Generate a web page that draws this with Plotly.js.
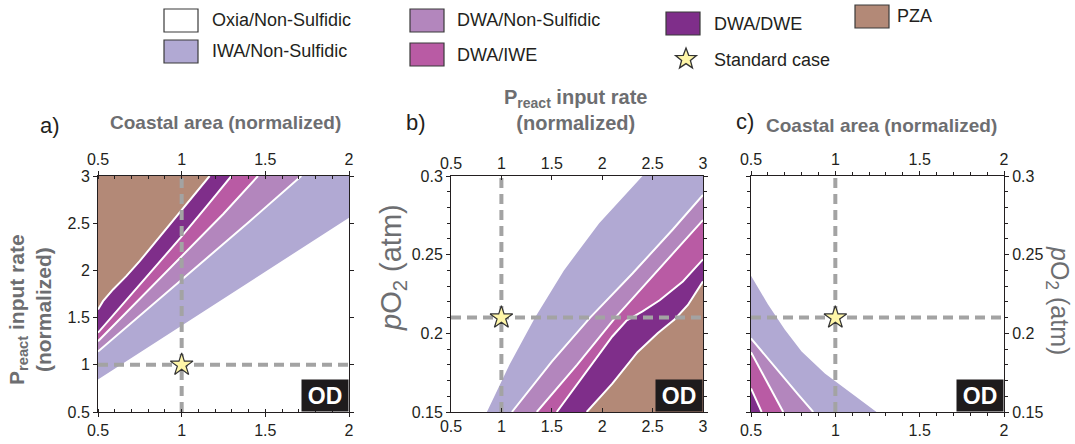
<!DOCTYPE html>
<html><head><meta charset="utf-8">
<script src="https://cdn.plot.ly/plotly-3.0.1.min.js"></script>
<style>html,body{margin:0;padding:0;background:#fff}#chart{width:1075px;height:444px}</style>
</head><body><div id="chart"></div>
<script>
// ================= DATA =================
const regionNames = ["Oxia/Non-Sulfidic", "IWA/Non-Sulfidic", "DWA/Non-Sulfidic", "DWA/IWE", "DWA/DWE", "PZA"];
const standardCaseLabel = "Standard case";
const xTitleCoastal = "Coastal area (normalized)";
const titlePreact = "P<sub>react</sub> input rate<br>(normalized)";
const titlePO2 = "<i>p</i>O<sub>2</sub> (atm)";

// Panel a: x = coastal area (normalized), y = Preact input rate (normalized)
const aRangeX = [0.5, 2];
const aRangeY = [0.5, 3];
const aPzaX = [0.5, 0.53, 0.59, 0.669, 0.749, 0.9, 1.0, 1.167];
const aPzaY = [1.585, 1.674, 1.798, 1.939, 2.098, 2.42, 2.64, 3.0];
const aDweX = [0.5, 0.75, 1.0, 1.15, 1.297];
const aDweY = [1.34, 1.85, 2.36, 2.68, 3.0];
const aIweX = [0.5, 0.75, 1.0, 1.25, 1.456];
const aIweY = [1.25, 1.70, 2.15, 2.60, 3.0];
const aNsX = [0.5, 0.75, 1.0, 1.4, 1.715];
const aNsY = [1.14, 1.52, 1.90, 2.51, 3.0];
const aIwaX = [0.5, 1.0, 1.5, 2.0];
const aIwaY = [0.843, 1.415, 1.985, 2.558];
const aStd = {x: 1, y: 1};

// Panel b: x = Preact input rate (normalized), y = pO2 (atm)
const bRangeX = [0.5, 3];
const bRangeY = [0.15, 0.3];
const bIwaX = [0.856, 1.08, 1.334, 1.62, 1.97, 2.40];
const bIwaY = [0.15, 0.18, 0.21, 0.24, 0.27, 0.30];
const bNsX = [1.104, 1.5, 1.88, 2.3, 2.7, 3.0];
const bNsY = [0.15, 0.182, 0.21, 0.238, 0.266, 0.288];
const bIweX = [1.351, 1.75, 2.13, 2.55, 3.0];
const bIweY = [0.15, 0.18, 0.21, 0.24, 0.272];
const bDweX = [1.549, 1.91, 2.1, 2.24, 2.4, 2.57, 2.8, 3.0];
const bDweY = [0.15, 0.181, 0.198, 0.208, 0.214, 0.221, 0.233, 0.247];
const bPzaX = [1.846, 2.1, 2.35, 2.55, 2.72, 2.85, 3.0];
const bPzaY = [0.15, 0.168, 0.188, 0.2, 0.209, 0.218, 0.233];
const bStd = {x: 1, y: 0.21};

// Panel c: x = coastal area (normalized), y = pO2 (atm)
const cRangeX = [0.5, 2];
const cRangeY = [0.15, 0.3];
const cIwaX = [0.5, 0.6, 0.7, 0.8, 0.938, 1.05, 1.15, 1.244];
const cIwaY = [0.2366, 0.2185, 0.2025, 0.1885, 0.1745, 0.1655, 0.1575, 0.15];
const cNsX = [0.5, 0.6, 0.69, 0.78, 0.869];
const cNsY = [0.1968, 0.1838, 0.1725, 0.161, 0.15];
const cIweX = [0.5, 0.6, 0.691];
const cIweY = [0.188, 0.1685, 0.15];
const cDweX = [0.5, 0.563];
const cDweY = [0.165, 0.15];
const cStd = {x: 1, y: 0.21};

// ================= STYLE =================
const W = 1075, H = 444;
const COL = {oxia: '#ffffff', iwa: '#b1a9d3', ns: '#b386bd', iwe: '#b95ba4', dwe: '#7f2e8a', pza: '#b38977'};
const FONT = 'Liberation Sans, Arial, Helvetica, sans-serif';
const INK = '#231f20';
const GREY = '#6d6e71';
const GUIDE = '#a3a3a3';
const STAR_FILL = '#fff6a8', STAR_LINE = '#333333';
const px = v => v / W;
const py = v => 1 - v / H;
const dom = {a: [px(98), px(349)], b: [px(451), px(703)], c: [px(751), px(1004)]};
const yDom = [py(412), py(176)];

// ================= GEOMETRY HELPERS =================
function edgeT(x, y, xr, yr) {
  const e = 1e-9;
  const fx = (x - xr[0]) / (xr[1] - xr[0]);
  const fy = (y - yr[0]) / (yr[1] - yr[0]);
  if (Math.abs(fx) < e) return fy;
  if (Math.abs(fy - 1) < e) return 1 + fx;
  if (Math.abs(fx - 1) < e) return 2 + (1 - fy);
  return 3 + (1 - fx);
}
function cornerAt(t, xr, yr) {
  const k = ((t % 4) + 4) % 4;
  return [[xr[0], yr[0]], [xr[0], yr[1]], [xr[1], yr[1]], [xr[1], yr[0]]][k];
}
function perimeterPath(ta, tb, xr, yr) {
  if (tb <= ta) tb += 4;
  const pts = [];
  for (let c = Math.floor(ta) + 1; c < tb; c++) pts.push(cornerAt(c, xr, yr));
  return pts;
}
function region(ax, ay, bx, by, xr, yr) {
  const X = ax.slice(), Y = ay.slice();
  const tA0 = edgeT(ax[0], ay[0], xr, yr), tA1 = edgeT(ax[ax.length - 1], ay[ay.length - 1], xr, yr);
  const push = p => { X.push(p[0]); Y.push(p[1]); };
  if (!bx) {
    perimeterPath(tA1, tA0, xr, yr).forEach(push);
  } else {
    const tB0 = edgeT(bx[0], by[0], xr, yr), tB1 = edgeT(bx[bx.length - 1], by[by.length - 1], xr, yr);
    perimeterPath(tA1, tB1, xr, yr).forEach(push);
    for (let i = bx.length - 1; i >= 0; i--) { X.push(bx[i]); Y.push(by[i]); }
    perimeterPath(tB0, tA0, xr, yr).forEach(push);
  }
  X.push(X[0]); Y.push(Y[0]);
  return {x: X, y: Y};
}
const rev = a => a.slice().reverse();

const traces = [];
function fillTrace(poly, color, xa, ya) {
  traces.push({x: poly.x, y: poly.y, xaxis: xa, yaxis: ya, type: 'scatter', mode: 'lines',
    fill: 'toself', fillcolor: color, line: {width: 0, color: color}, hoverinfo: 'skip', showlegend: false});
}
function lineTrace(x, y, xa, ya) {
  traces.push({x: x, y: y, xaxis: xa, yaxis: ya, type: 'scatter', mode: 'lines',
    line: {color: '#ffffff', width: 2}, hoverinfo: 'skip', showlegend: false});
}
function guides(std, xr, yr, xa, ya) {
  const ln = {color: GUIDE, width: 4, dash: '10px,6px'};
  traces.push({x: [std.x, std.x], y: yr, xaxis: xa, yaxis: ya, type: 'scatter', mode: 'lines', line: ln, hoverinfo: 'skip', showlegend: false});
  traces.push({x: xr, y: [std.y, std.y], xaxis: xa, yaxis: ya, type: 'scatter', mode: 'lines', line: ln, hoverinfo: 'skip', showlegend: false});
}
function star(std, xa, ya) {
  traces.push({x: [std.x], y: [std.y], xaxis: xa, yaxis: ya, type: 'scatter', mode: 'markers', cliponaxis: false,
    marker: {symbol: 'star', size: 17, color: STAR_FILL, line: {color: STAR_LINE, width: 1.2}},
    hoverinfo: 'skip', showlegend: false});
}
function topDummy(xr, yr, xa, ya) {
  traces.push({x: xr, y: [yr[0], yr[0]], xaxis: xa, yaxis: ya, type: 'scatter', mode: 'markers', marker: {opacity: 0, size: 1}, hoverinfo: 'skip', showlegend: false});
}

// ---- Panel a ----
fillTrace(region(rev(aPzaX), rev(aPzaY), null, null, aRangeX, aRangeY), COL.pza, 'x', 'y');
fillTrace(region(aPzaX, aPzaY, aDweX, aDweY, aRangeX, aRangeY), COL.dwe, 'x', 'y');
fillTrace(region(aDweX, aDweY, aIweX, aIweY, aRangeX, aRangeY), COL.iwe, 'x', 'y');
fillTrace(region(aIweX, aIweY, aNsX, aNsY, aRangeX, aRangeY), COL.ns, 'x', 'y');
fillTrace(region(aNsX, aNsY, aIwaX, aIwaY, aRangeX, aRangeY), COL.iwa, 'x', 'y');
[[aPzaX, aPzaY], [aDweX, aDweY], [aIweX, aIweY], [aNsX, aNsY]].forEach(c => lineTrace(c[0], c[1], 'x', 'y'));
guides(aStd, aRangeX, aRangeY, 'x', 'y');
star(aStd, 'x', 'y');
topDummy(aRangeX, aRangeY, 'x2', 'y');

// ---- Panel b ----
fillTrace(region(bIwaX, bIwaY, bNsX, bNsY, bRangeX, bRangeY), COL.iwa, 'x3', 'y2');
fillTrace(region(bNsX, bNsY, bIweX, bIweY, bRangeX, bRangeY), COL.ns, 'x3', 'y2');
fillTrace(region(bIweX, bIweY, bDweX, bDweY, bRangeX, bRangeY), COL.iwe, 'x3', 'y2');
fillTrace(region(bDweX, bDweY, bPzaX, bPzaY, bRangeX, bRangeY), COL.dwe, 'x3', 'y2');
fillTrace(region(bPzaX, bPzaY, null, null, bRangeX, bRangeY), COL.pza, 'x3', 'y2');
[[bNsX, bNsY], [bIweX, bIweY], [bDweX, bDweY], [bPzaX, bPzaY]].forEach(c => lineTrace(c[0], c[1], 'x3', 'y2'));
guides(bStd, bRangeX, bRangeY, 'x3', 'y2');
star(bStd, 'x3', 'y2');
topDummy(bRangeX, bRangeY, 'x4', 'y2');

// ---- Panel c ----
fillTrace(region(cIwaX, cIwaY, cNsX, cNsY, cRangeX, cRangeY), COL.iwa, 'x5', 'y3');
fillTrace(region(cNsX, cNsY, cIweX, cIweY, cRangeX, cRangeY), COL.ns, 'x5', 'y3');
fillTrace(region(cIweX, cIweY, cDweX, cDweY, cRangeX, cRangeY), COL.iwe, 'x5', 'y3');
fillTrace(region(cDweX, cDweY, null, null, cRangeX, cRangeY), COL.dwe, 'x5', 'y3');
[[cNsX, cNsY], [cIweX, cIweY], [cDweX, cDweY]].forEach(c => lineTrace(c[0], c[1], 'x5', 'y3'));
guides(cStd, cRangeX, cRangeY, 'x5', 'y3');
star(cStd, 'x5', 'y3');
topDummy(cRangeX, cRangeY, 'x6', 'y3');

// ================= AXES =================
const tickFont = {family: FONT, size: 16, color: INK};
function ax(o) {
  return Object.assign({showline: true, linecolor: INK, linewidth: 1, showgrid: false, zeroline: false,
    tickfont: tickFont, tickcolor: INK, ticklen: 4, tickwidth: 1, fixedrange: true}, o);
}
const minorX = (ticks) => ({ticks: ticks, dtick: 0.1, ticklen: 3, tickcolor: INK, showgrid: false});
const minorY = (ticks) => ({ticks: ticks, dtick: 0.01, ticklen: 3, tickcolor: INK, showgrid: false});

const layout = {
  width: W, height: H, margin: {l: 0, r: 0, t: 0, b: 0, pad: 0}, paper_bgcolor: '#ffffff', plot_bgcolor: '#ffffff',
  showlegend: false, font: {family: FONT, color: INK},
  xaxis: ax({domain: dom.a, range: aRangeX, anchor: 'y', side: 'bottom', tick0: 0.5, dtick: 0.5, ticks: 'outside', minor: minorX('inside')}),
  xaxis2: ax({overlaying: 'x', range: aRangeX, anchor: 'y', side: 'top', tick0: 0.5, dtick: 0.5, ticks: 'outside', minor: minorX('inside')}),
  yaxis: ax({domain: yDom, range: aRangeY, anchor: 'x', side: 'left', tick0: 0.5, dtick: 0.5, ticks: 'outside', mirror: 'ticks'}),

  xaxis3: ax({domain: dom.b, range: bRangeX, anchor: 'y2', side: 'bottom', tick0: 0.5, dtick: 0.5, ticks: 'inside'}),
  xaxis4: ax({overlaying: 'x3', range: bRangeX, anchor: 'y2', side: 'top', tick0: 0.5, dtick: 0.5, ticks: 'inside'}),
  yaxis2: ax({domain: yDom, range: bRangeY, anchor: 'x3', side: 'left', tick0: 0.15, dtick: 0.05, ticks: 'outside', mirror: 'ticks', minor: minorY('outside')}),

  xaxis5: ax({domain: dom.c, range: cRangeX, anchor: 'y3', side: 'bottom', tick0: 0.5, dtick: 0.5, ticks: 'outside', minor: minorX('outside')}),
  xaxis6: ax({overlaying: 'x5', range: cRangeX, anchor: 'y3', side: 'top', tick0: 0.5, dtick: 0.5, ticks: 'outside', minor: minorX('outside')}),
  yaxis3: ax({domain: yDom, range: cRangeY, anchor: 'x5', side: 'right', tick0: 0.15, dtick: 0.05, ticks: 'outside', mirror: 'ticks', minor: minorY('outside')}),
  shapes: [], annotations: []
};

// ================= TEXT =================
const A = layout.annotations;
function txt(x, y, text, size, color, extra) {
  A.push(Object.assign({xref: 'paper', yref: 'paper', x: px(x), y: py(y), text: text, showarrow: false,
    font: {family: FONT, size: size, color: color}, xanchor: 'center', yanchor: 'middle'}, extra || {}));
}
txt(50, 125, 'a)', 22, INK);
txt(416, 122, 'b)', 22, INK);
txt(745, 121, 'c)', 22, INK);
txt(225, 122, '<b>' + xTitleCoastal + '</b>', 19, GREY);
txt(30, 310, '<b>' + titlePreact + '</b>', 21, GREY, {textangle: -90});
txt(575, 110, '<b>' + titlePreact + '</b>', 20, GREY);
txt(393, 268, titlePO2, 29, GREY, {textangle: -90});
txt(881, 125, '<b>' + xTitleCoastal + '</b>', 19, GREY);
txt(1058, 300, titlePO2, 25, GREY, {textangle: 90});
[349, 703, 1004].forEach(r => {
  A.push({xref: 'paper', yref: 'paper', x: px(r), y: py(412), xanchor: 'right', yanchor: 'bottom',
    text: '<b>OD</b>', showarrow: false, font: {family: FONT, size: 23, color: '#ffffff'},
    bgcolor: '#1e1b1c', width: 46, height: 31, borderpad: 0});
});

// ================= LEGEND =================
const legendItems = [
  {name: regionNames[0], color: COL.oxia, box: [164, 9], text: [210, 20]},
  {name: regionNames[1], color: COL.iwa, box: [164, 40], text: [210, 51]},
  {name: regionNames[2], color: COL.ns, box: [410, 9], text: [455, 20]},
  {name: regionNames[3], color: COL.iwe, box: [410, 43], text: [455, 55]},
  {name: regionNames[4], color: COL.dwe, box: [666, 12], text: [712, 24]},
  {name: regionNames[5], color: COL.pza, box: [855, 5], text: [895, 16]}
];
legendItems.forEach(it => {
  layout.shapes.push({type: 'rect', xref: 'paper', yref: 'paper', x0: px(it.box[0]), x1: px(it.box[0] + 34),
    y0: py(it.box[1] + 23), y1: py(it.box[1]), fillcolor: it.color, line: {color: '#3a3a3a', width: 1.2}});
  txt(it.text[0], it.text[1], it.name, 18, INK, {xanchor: 'left'});
});
(function () {
  const cx = 686, cy = 59, R = 11, r = 4.6;
  let d = '';
  for (let i = 0; i < 10; i++) {
    const ang = -Math.PI / 2 + i * Math.PI / 5;
    const rr = i % 2 === 0 ? R : r;
    d += (i === 0 ? 'M' : 'L') + px(cx + rr * Math.cos(ang)).toFixed(5) + ',' + py(cy + rr * Math.sin(ang)).toFixed(5);
  }
  d += 'Z';
  layout.shapes.push({type: 'path', xref: 'paper', yref: 'paper', path: d, fillcolor: STAR_FILL, line: {color: STAR_LINE, width: 1.3}});
})();
txt(712, 60, standardCaseLabel, 18, INK, {xanchor: 'left'});

Plotly.newPlot('chart', traces, layout, {staticPlot: true, displayModeBar: false});
</script>
</body></html>
